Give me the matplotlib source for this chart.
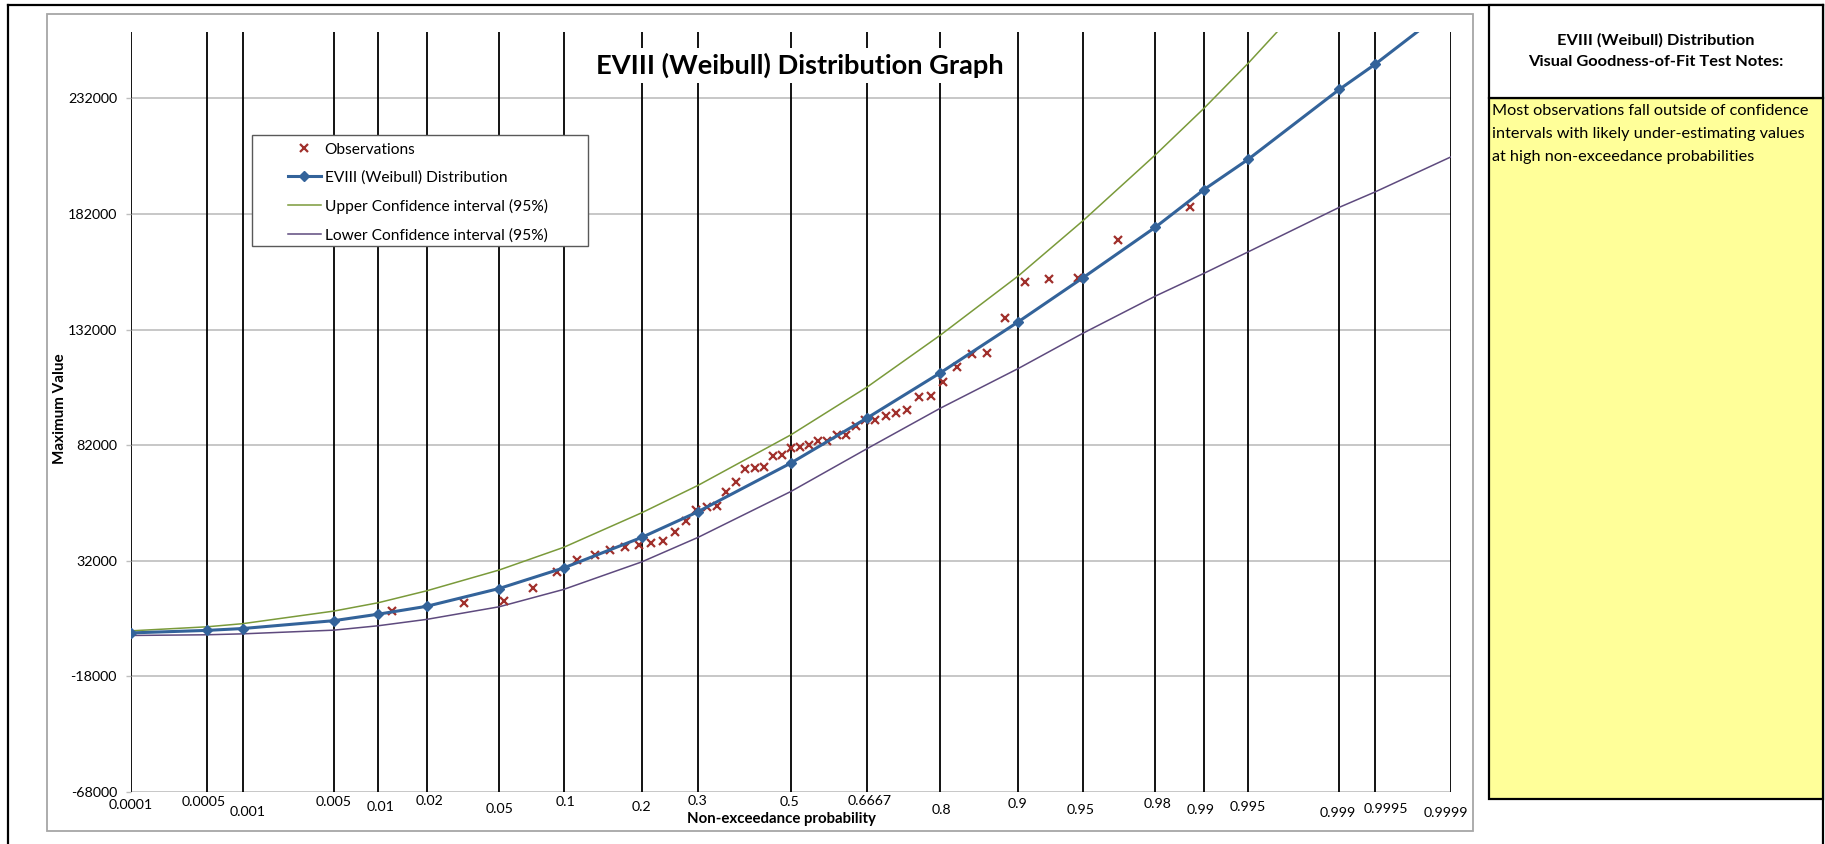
import matplotlib
matplotlib.use("Agg")
import matplotlib.pyplot as plt
from matplotlib.lines import Line2D
from matplotlib.patches import Rectangle
from statistics import NormalDist
import numpy as np

# ---------------- data ----------------
# observed annual maxima, sorted, with their plotting-position probabilities
obs_prob = [0.0122, 0.0325, 0.0528, 0.0732, 0.0935, 0.1138, 0.1341, 0.1545, 0.1748,
            0.1951, 0.2154, 0.2358, 0.2561, 0.2764, 0.2967, 0.3171, 0.3374, 0.3577,
            0.3780, 0.3984, 0.4187, 0.4390, 0.4593, 0.4797, 0.5000, 0.5203, 0.5407,
            0.5610, 0.5813, 0.6016, 0.6220, 0.6423, 0.6626, 0.6829, 0.7033, 0.7236,
            0.7439, 0.7642, 0.7846, 0.8049, 0.8252, 0.8455, 0.8659, 0.8862, 0.9065,
            0.9268, 0.9472, 0.9675, 0.9878]
obs_value = [10200, 13800, 14800, 20100, 27000, 32200, 34700, 36600, 38000,
             39000, 39500, 40500, 44300, 49000, 53800, 55200, 55500, 61600,
             66200, 71700, 72100, 72500, 77200, 77800, 80600, 81000, 81900,
             83900, 83900, 86200, 86500, 90400, 92900, 92900, 94700, 95900,
             97300, 102700, 103100, 109200, 115700, 121400, 122000, 136800, 152700,
             154000, 154100, 170700, 184900]

# fitted EVIII (Weibull) quantiles and 95% confidence limits
dist_prob = [0.0001, 0.0005, 0.001, 0.005, 0.01, 0.02, 0.05, 0.1, 0.2, 0.3, 0.5,
             0.6667, 0.8, 0.9, 0.95, 0.98, 0.99, 0.995, 0.999, 0.9995, 0.9999]
dist_value = [800, 1900, 2700, 6100, 8900, 12300, 20000, 28900, 42100, 53200, 74300,
              93850, 113300, 135400, 154400, 176300, 192500, 205600, 235900, 246700, 272000]
upper_value = [1700, 3450, 4800, 10250, 13850, 19000, 28000, 37800, 52750, 64600, 86500,
               107250, 129600, 155250, 179050, 207600, 227650, 247150, 290000, 305000, 338000]
lower_value = [-300, 0, 400, 2000, 3900, 6650, 12100, 19600, 31500, 42100, 62000,
               80600, 98000, 115200, 130400, 146500, 156300, 165600, 184900, 191500, 206700]

prob_ticks = [0.0001, 0.0005, 0.001, 0.005, 0.01, 0.02, 0.05, 0.1, 0.2, 0.3, 0.5,
              0.6667, 0.8, 0.9, 0.95, 0.98, 0.99, 0.995, 0.999, 0.9995, 0.9999]
prob_tick_labels = ["0.0001", "0.0005", "0.001", "0.005", "0.01", "0.02", "0.05", "0.1",
                    "0.2", "0.3", "0.5", "0.6667", "0.8", "0.9", "0.95", "0.98", "0.99",
                    "0.995", "0.999", "0.9995", "0.9999"]
value_ticks = [-68000, -18000, 32000, 82000, 132000, 182000, 232000]

# ---------------- layout (pixels) ----------------
W, H, DPI = 1825, 844, 100
# staggered tick-label placement: horizontal nudge and depth below the axis
label_dx = [0, -3.4, 4.8, 0, 2.4, 2.7, 0, 2, 0, 0, -1, 2, 1.5, -1, -2, 1.7, -2.8, 0, -1.2, 10.5, -5.4]
label_dy = [13, 10, 19.7, 10, 15, 9, 17, 10, 15, 9, 10, 9, 18, 11.7, 18, 12, 18, 15, 20.7, 17, 20.7]

plt.rcParams['font.family'] = ['Lato', 'DejaVu Sans']

_nd = NormalDist()


def z(p):
    return np.array([_nd.inv_cdf(v) for v in np.atleast_1d(p)])


def fx(px):
    return px / W


def fy(py):
    return 1 - py / H


fig = plt.figure(figsize=(W / DPI, H / DPI), dpi=DPI)
fig.patch.set_facecolor('white')

ax = fig.add_axes([fx(131), fy(792), (1451 - 131) / W, (792 - 32) / H])
ax.set_xlim(z(0.0001)[0], z(0.9999)[0])
ax.set_ylim(-68000, 260700)
for s in ax.spines.values():
    s.set_visible(False)

# grid: gray value lines, black probability lines
for v in value_ticks:
    ax.axhline(v, color='#BEBEBE', lw=1.2, zorder=1)
for p in prob_ticks:
    ax.axvline(z(p)[0], color='black', lw=1.3, zorder=1.5)

C_BLUE = '#33639A'
C_GREEN = '#7A9A3A'
C_PURPLE = '#5E4A7E'
C_RED = '#A0302C'

ax.plot(z(dist_prob), upper_value, color=C_GREEN, lw=1.1, zorder=2)
ax.plot(z(dist_prob), lower_value, color=C_PURPLE, lw=1.1, zorder=2)
ax.plot(z(obs_prob), obs_value, ls='none', marker='x', ms=5.5, mew=1.6, color=C_RED, zorder=2.5)
ax.plot(z(dist_prob), dist_value, color=C_BLUE, lw=2.2, marker='D', ms=5, zorder=3)

ax.set_xticks([])
ax.set_yticks(value_ticks)
ax.set_yticklabels([str(v) for v in value_ticks], fontsize=10.3)
ax.tick_params(axis='y', length=3.6, width=1, color='#BEBEBE', pad=6.5)

for p, lab, dx, dy in zip(prob_ticks, prob_tick_labels, label_dx, label_dy):
    ax.annotate(lab, xy=(z(p)[0], 0), xycoords=('data', 'axes fraction'),
                xytext=(dx * 72 / DPI, -dy * 72 / DPI), textcoords='offset points',
                ha='center', va='center', fontsize=10.2, annotation_clip=False)

# axis titles
fig.text(fx(60.5), fy(409), 'Maximum Value', rotation=90, ha='center', va='center',
         fontsize=11, fontweight='bold')
fig.text(fx(781), fy(819.3), 'Non-exceedance probability', ha='center', va='center',
         fontsize=10.8, fontweight='bold')

# chart title on a white plate
fig.text(fx(800), fy(65.5), 'EVIII (Weibull) Distribution Graph', ha='center', va='center',
         fontsize=19.6, fontweight='bold',
         bbox=dict(facecolor='white', edgecolor='none', pad=3.5))

# legend
fig.patches.append(Rectangle((fx(252), fy(246)), (588 - 252) / W, (246 - 135) / H,
                             transform=fig.transFigure, facecolor='white',
                             edgecolor='#595959', lw=1.0, zorder=2))
handles = [
    Line2D([], [], ls='none', marker='x', ms=5.5, mew=1.6, color=C_RED),
    Line2D([], [], color=C_BLUE, lw=2.2, marker='D', ms=5),
    Line2D([], [], color=C_GREEN, lw=1.1),
    Line2D([], [], color=C_PURPLE, lw=1.1),
]
labels = ['Observations', 'EVIII (Weibull) Distribution',
          'Upper Confidence interval (95%)', 'Lower Confidence interval (95%)']
leg = fig.legend(handles, labels, loc='upper left', bbox_to_anchor=(fx(288), fy(142.5)),
                 frameon=False, fontsize=11.2, handlelength=2.1, handletextpad=0.25,
                 labelspacing=0.9, borderpad=0, borderaxespad=0, numpoints=1)
leg.set_zorder(5)

# chart-area outline
fig.patches.append(Rectangle((fx(47), fy(830.7)), (1473.3 - 47) / W, (830.7 - 13.7) / H,
                             transform=fig.transFigure, facecolor='none',
                             edgecolor='#A6A6A6', lw=1.3, zorder=0.5))

# notes panel
fig.patches.append(Rectangle((fx(1489), fy(799)), (1823 - 1489) / W, (799 - 97.7) / H,
                             transform=fig.transFigure, facecolor='#FFFF99',
                             edgecolor='black', lw=1.6, zorder=1))
fig.patches.append(Rectangle((fx(1489), fy(97.7)), (1823 - 1489) / W, (97.7 - 5) / H,
                             transform=fig.transFigure, facecolor='white',
                             edgecolor='black', lw=1.6, zorder=1))
fig.text(fx(1656), fy(40), 'EVIII (Weibull) Distribution', ha='center', va='center',
         fontsize=11.8, fontweight='bold')
fig.text(fx(1656), fy(62.3), 'Visual Goodness-of-Fit Test Notes:', ha='center', va='center',
         fontsize=11.8, fontweight='bold')
for yy, line in zip([111, 134.3, 157.3],
                    ['Most observations fall outside of confidence',
                     'intervals with likely under-estimating values',
                     'at high non-exceedance probabilities']):
    fig.text(fx(1492.5), fy(yy), line, ha='left', va='center', fontsize=11.7)

# sheet frame
frame_kw = dict(transform=fig.transFigure, color='black', lw=1.6, zorder=1)
fig.lines.append(Line2D([fx(8), fx(8)], [fy(5), fy(844)], **frame_kw))
fig.lines.append(Line2D([fx(8), fx(1823)], [fy(5), fy(5)], **frame_kw))
fig.lines.append(Line2D([fx(1823), fx(1823)], [fy(5), fy(844)], **frame_kw))

fig.savefig('out.png', dpi=DPI, facecolor='white')
